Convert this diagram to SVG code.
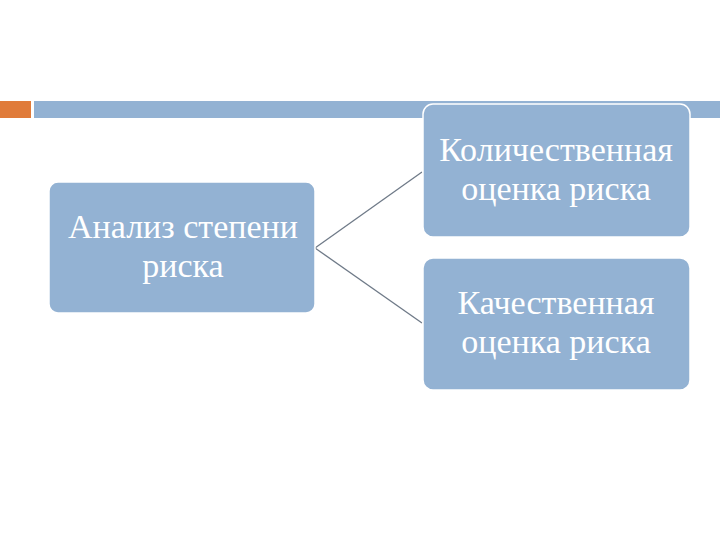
<svg xmlns="http://www.w3.org/2000/svg" width="720" height="540" viewBox="0 0 720 540">
<style>
.box{fill:#93b2d3;stroke:#ffffff;stroke-width:1.5}
.t{font-family:"Liberation Serif","Times New Roman",serif;font-size:34px;fill:#ffffff;text-anchor:middle}
.c{stroke:#6f7a88;stroke-width:1.3;fill:none}
</style>
<rect x="0" y="0" width="720" height="540" fill="#ffffff"/>
<rect x="0" y="101" width="31" height="17" fill="#e07b3a"/>
<rect x="34" y="101" width="686" height="17" fill="#93b2d3"/>
<g id="connectors">
<line class="c" x1="315" y1="248" x2="422" y2="172"/>
<line class="c" x1="315" y1="248" x2="422" y2="323"/>
</g>
<g id="n1">
<rect class="box" x="49" y="182" width="266" height="131" rx="9"/>
<text class="t" x="183" y="238">Анализ степени</text>
<text class="t" x="183" y="277">риска</text>
</g>
<g id="n2">
<rect class="box" x="423" y="104" width="267" height="133" rx="10"/>
<text class="t" x="556" y="161">Количественная</text>
<text class="t" x="556" y="200">оценка риска</text>
</g>
<g id="n3">
<rect class="box" x="423" y="258" width="267" height="132" rx="10"/>
<text class="t" x="556" y="314">Качественная</text>
<text class="t" x="556" y="353">оценка риска</text>
</g>
</svg>
